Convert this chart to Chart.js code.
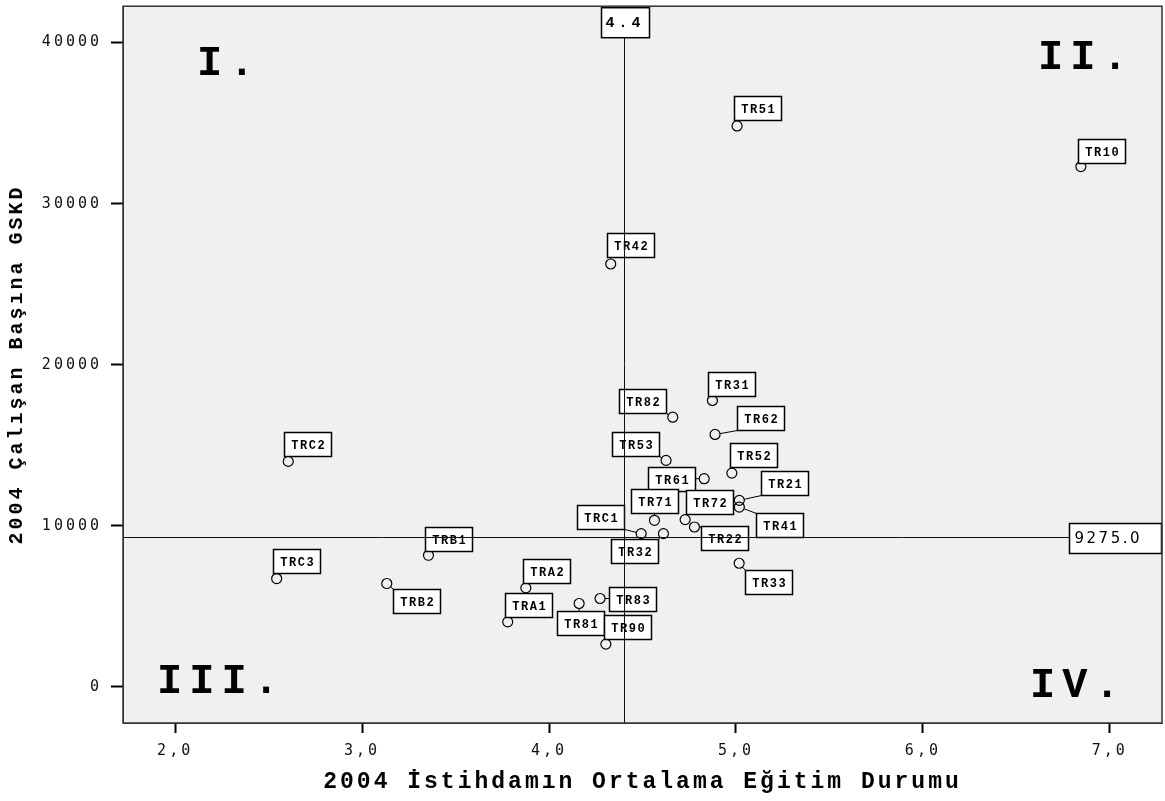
<!DOCTYPE html>
<html><head><meta charset="utf-8">
<script src="https://cdn.jsdelivr.net/npm/chart.js@4/dist/chart.umd.min.js"></script>
<style>html,body{margin:0;padding:0;background:#fff;}canvas{display:block;}</style>
</head><body>
<canvas id="c" width="1165" height="801"></canvas>
<script>
// ---- data ----
const regions = ['TR51','TR10','TR42','TR31','TR82','TR62','TR53','TRC2','TR52','TR61','TR21','TR41','TR72','TR71','TR22','TRC1','TR32','TR33','TRB1','TRC3','TRB2','TRA2','TRA1','TR81','TR83','TR90'];
const education = [5.006,6.845,4.330,4.874,4.662,4.888,4.626,2.605,4.978,4.830,5.018,5.018,4.728,4.564,4.778,4.493,4.612,5.017,3.355,2.543,3.132,3.876,3.779,4.161,4.273,4.304];
const gdpPerWorker = [34825,32302,26251,17775,16740,15667,14055,13993,13268,12921,11575,11160,10379,10335,9920,9511,9511,7669,8165,6721,6411,6138,4030,5171,5481,2647];
const xTicks = [2,3,4,5,6,7];
const yTicks = [0,10000,20000,30000,40000];
const refX = 4.4;
const refY = 9275.0;
const quadrantLabels = ['I.','II.','III.','IV.'];
const xTitle = '2004 İstihdamın Ortalama Eğitim Durumu';
const yTitle = '2004 Çalışan Başına GSKD';

// ---- label box placement (style, px offsets of box top-left from point) ----
const labelOffsets = {
  TR51:[-3,-30], TR10:[-3,-28], TR42:[-4,-31], TR31:[-4,-29], TR82:[-54,-28], TR62:[22,-28],
  TR53:[-54,-28], TRC2:[-4,-29], TR52:[-2,-30], TR61:[-56,-12], TR21:[22,-29], TR41:[17,6],
  TR72:[1,-30], TR71:[-23,-31], TR22:[7,-1], TRC1:[-64,-29], TR32:[-52,5], TR33:[6,7],
  TRB1:[-3,-28], TRC3:[-4,-30], TRB2:[6,5], TRA2:[-3,-29], TRA1:[-3,-29], TR81:[-22,8],
  TR83:[9,-11], TR90:[-2,-29]
};
const BOX_W = 47, BOX_H = 24;
const PLOT_RIGHT = 1162;

const decorPlugin = {
  id: 'decor',
  afterLayout(chart) {
    const a = chart.chartArea;
    if (Math.abs(a.right - PLOT_RIGHT) > 0.5) {
      a.right = PLOT_RIGHT; a.width = a.right - a.left;
      const x = chart.scales.x;
      x.right = PLOT_RIGHT; x.width = x.right - x.left;
      x.configure();
    }
  },
  beforeDraw(chart) {
    const {ctx, chartArea: a} = chart;
    ctx.save();
    ctx.fillStyle = '#f0f0f0';
    ctx.fillRect(a.left, a.top, a.right - a.left, a.bottom - a.top);
    ctx.restore();
    ctx.letterSpacing = '3px';
  },
  afterDatasetsDraw(chart) {
    const {ctx, chartArea: a, scales} = chart;
    const meta = chart.getDatasetMeta(0);
    ctx.save();
    ctx.letterSpacing = '0px';
    // connectors + label boxes
    meta.data.forEach((pt, i) => {
      const name = regions[i];
      const off = labelOffsets[name] || [-3, -29];
      const bx = Math.round(pt.x + off[0]) + 0.5, by = Math.round(pt.y + off[1]) + 0.5;
      const nx = Math.max(bx, Math.min(pt.x, bx + BOX_W));
      const ny = Math.max(by, Math.min(pt.y, by + BOX_H));
      const dx = nx - pt.x, dy = ny - pt.y, d = Math.hypot(dx, dy);
      if (d > 5) {
        ctx.strokeStyle = '#000'; ctx.lineWidth = 1;
        ctx.beginPath();
        ctx.moveTo(pt.x + dx / d * 5, pt.y + dy / d * 5);
        ctx.lineTo(nx, ny);
        ctx.stroke();
      }
    });
    meta.data.forEach((pt, i) => {
      const name = regions[i];
      const off = labelOffsets[name] || [-3, -29];
      const bx = Math.round(pt.x + off[0]) + 0.5, by = Math.round(pt.y + off[1]) + 0.5;
      ctx.fillStyle = '#fff';
      ctx.fillRect(bx, by, BOX_W, BOX_H);
      ctx.strokeStyle = '#000'; ctx.lineWidth = 1.5;
      ctx.strokeRect(bx, by, BOX_W, BOX_H);
      ctx.fillStyle = '#000';
      ctx.font = 'bold 12px "Liberation Mono"';
      ctx.letterSpacing = '1.5px';
      ctx.textAlign = 'center'; ctx.textBaseline = 'middle';
      ctx.fillText(name, bx + BOX_W / 2 + 0.75, by + BOX_H / 2 + 1);
      ctx.letterSpacing = '0px';
    });
    // reference lines
    const px = Math.round(scales.x.getPixelForValue(refX)) + 0.5;
    const py = Math.round(scales.y.getPixelForValue(refY)) + 0.5;
    ctx.strokeStyle = '#111'; ctx.lineWidth = 1;
    ctx.beginPath();
    ctx.moveTo(px, a.top); ctx.lineTo(px, a.bottom);
    ctx.moveTo(a.left, py); ctx.lineTo(a.right, py);
    ctx.stroke();
    // reference labels
    ctx.lineWidth = 1.5; ctx.strokeStyle = '#000';
    let w = 48, h = 30, x0 = Math.round(px - 24) + 0.5, y0 = a.top + 1.5;
    ctx.fillStyle = '#fff'; ctx.fillRect(x0, y0, w, h); ctx.strokeRect(x0, y0, w, h);
    ctx.fillStyle = '#000'; ctx.font = 'bold 15px "Liberation Mono"'; ctx.letterSpacing = '4px';
    ctx.textAlign = 'left'; ctx.textBaseline = 'middle';
    ctx.fillText(refX.toFixed(1), x0 + 4, y0 + h / 2 + 1);
    w = 92; h = 30; x0 = a.right - w - 0.5; y0 = Math.round(py - 15) + 0.5;
    ctx.fillStyle = '#fff'; ctx.fillRect(x0, y0, w, h); ctx.strokeRect(x0, y0, w, h);
    ctx.fillStyle = '#000'; ctx.font = '15px "DejaVu Sans"'; ctx.letterSpacing = '2.5px';
    ctx.fillText(refY.toFixed(1), x0 + 5, y0 + h / 2 + 1);
    // quadrant labels
    ctx.font = 'bold 42px "Liberation Mono"'; ctx.letterSpacing = '7px';
    ctx.textBaseline = 'alphabetic'; ctx.textAlign = 'left';
    ctx.fillText(quadrantLabels[0], a.left + 74, a.top + 69);
    ctx.fillText(quadrantLabels[1], a.right - 124, a.top + 63);
    ctx.fillText(quadrantLabels[2], a.left + 34, a.bottom - 30);
    ctx.fillText(quadrantLabels[3], a.right - 132, a.bottom - 26);
    // frame
    ctx.letterSpacing = '0px';
    ctx.strokeStyle = '#333'; ctx.lineWidth = 1.5;
    ctx.strokeRect(a.left, a.top, a.right - a.left, a.bottom - a.top);
    ctx.restore();
  },
  afterDraw(chart) { chart.ctx.letterSpacing = '0px'; }
};

new Chart(document.getElementById('c'), {
  type: 'scatter',
  data: {
    datasets: [{
      data: regions.map((r, i) => ({x: education[i], y: gdpPerWorker[i]})),
      pointStyle: 'circle', pointRadius: 5, pointHoverRadius: 5,
      pointBorderColor: '#000', pointBackgroundColor: 'rgba(0,0,0,0)', pointBorderWidth: 1.2
    }]
  },
  options: {
    responsive: false, animation: false, devicePixelRatio: 1,
    events: [],
    layout: {padding: {top: 5, right: 3, left: 0, bottom: 0}},
    plugins: {legend: {display: false}, tooltip: {enabled: false}},
    scales: {
      x: {
        type: 'linear', min: 1.721, max: 7.279,
        afterBuildTicks: s => { s.ticks = xTicks.map(v => ({value: v})); },
        afterFit: s => { s.height = 78; s.paddingLeft = 0; s.paddingRight = 0; },
        ticks: {callback: v => Number(v).toFixed(1).replace('.', ','), font: {family: 'DejaVu Sans Mono', size: 15}, color: '#111', padding: 9, maxRotation: 0, autoSkip: false},
        grid: {drawOnChartArea: false, drawTicks: true, tickLength: 10, tickWidth: 2, tickColor: '#000'},
        border: {display: true, color: '#333', width: 1},
        title: {display: true, text: xTitle, color: '#000', font: {family: 'Liberation Mono', size: 23, weight: 'bold'}, padding: {top: 0, bottom: 5}}
      },
      y: {
        type: 'linear', min: -2250, max: 42259,
        afterBuildTicks: s => { s.ticks = yTicks.map(v => ({value: v})); },
        afterFit: s => { s.width = 123; s.paddingTop = 0; s.paddingBottom = 0; s.paddingLeft = 0; s.paddingRight = 0; },
        ticks: {callback: v => String(v), font: {family: 'DejaVu Sans Mono', size: 15}, color: '#111', padding: 9, autoSkip: false},
        grid: {drawOnChartArea: false, drawTicks: true, tickLength: 12, tickWidth: 2, tickColor: '#000'},
        border: {display: true, color: '#333', width: 1},
        title: {display: true, text: yTitle, color: '#000', font: {family: 'Liberation Mono', size: 20, weight: 'bold'}, padding: {top: 5, bottom: 0}}
      }
    }
  },
  plugins: [decorPlugin]
});
</script>
</body></html>
